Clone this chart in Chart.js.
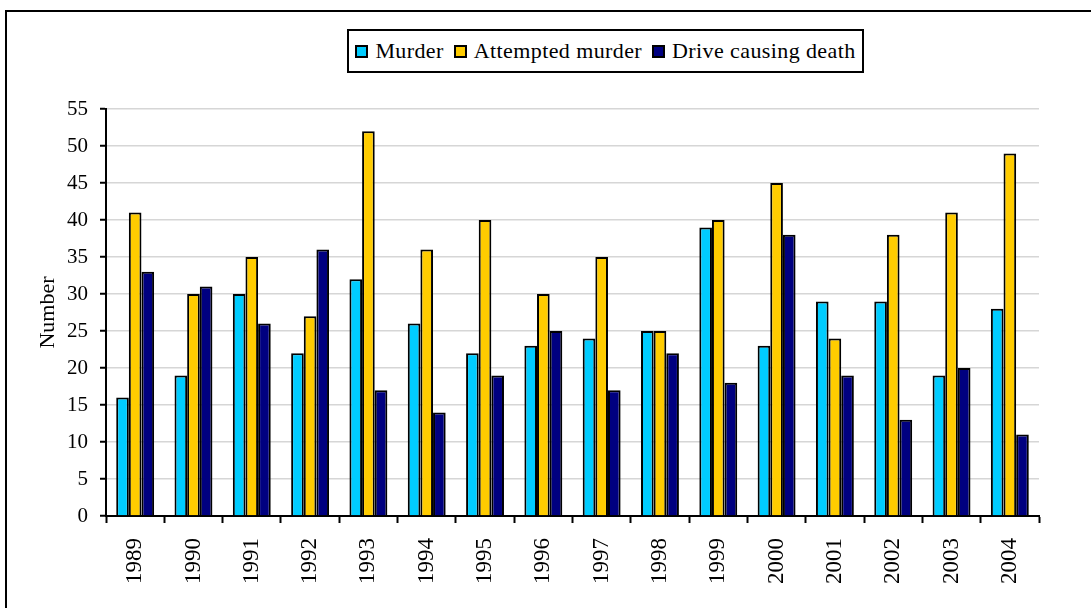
<!DOCTYPE html>
<html>
<head>
<meta charset="utf-8">
<script src="https://cdn.jsdelivr.net/npm/chart.js@4/dist/chart.umd.min.js"></script>
<style>
  html, body { margin: 0; padding: 0; background: #fff; overflow: hidden; width: 1091px; height: 608px; }
  #frame { position: absolute; left: 5px; top: 10px; width: 2000px; height: 2000px;
           border-left: 2px solid #000; border-top: 2px solid #000; }
  #chart { position: absolute; left: 0; top: 0; }
  #legend { position: absolute; left: 347px; top: 29px; width: 513px; height: 40px;
            border: 2px solid #000; background: #fff;
            display: flex; align-items: center; justify-content: center;
            font-family: "Liberation Serif", "Times New Roman", serif; font-size: 22px; color: #000;
            letter-spacing: 0.4px; }
  .item { display: flex; align-items: center; margin: 0 5px; }
  .sw { width: 9px; height: 9px; border: 2px solid #000; margin-right: 7px; margin-top: 1px; }
</style>
</head>
<body>
<div id="frame"></div>
<canvas id="chart" width="1091" height="608"></canvas>
<div id="legend"></div>
<script>
const categories = ["1989","1990","1991","1992","1993","1994","1995","1996","1997","1998","1999","2000","2001","2002","2003","2004"];
const murder          = [16, 19, 30, 22, 32, 26, 22, 23, 24, 25, 39, 23, 29, 29, 19, 28];
const attemptedMurder = [41, 30, 35, 27, 52, 36, 40, 30, 35, 25, 40, 45, 24, 38, 41, 49];
const driveDeath      = [33, 31, 26, 36, 17, 14, 19, 25, 17, 22, 18, 38, 19, 13, 20, 11];
const seriesNames = ["Murder", "Attempted murder", "Drive causing death"];
const seriesColors = ["#00CCFF", "#FFCC00", "#000080"];
const yTitle = "Number";

const seriesData = [murder, attemptedMurder, driveDeath];

// HTML legend
const legendEl = document.getElementById('legend');
seriesNames.forEach((name, i) => {
  const it = document.createElement('div');
  it.className = 'item';
  const sw = document.createElement('div');
  sw.className = 'sw';
  sw.style.background = seriesColors[i];
  const tx = document.createElement('span');
  tx.textContent = name;
  it.appendChild(sw); it.appendChild(tx);
  legendEl.appendChild(it);
});

const serif = "'Liberation Serif', 'Times New Roman', serif";

new Chart(document.getElementById('chart'), {
  type: 'bar',
  data: {
    labels: categories,
    datasets: seriesNames.map((name, i) => ({
      label: name,
      data: seriesData[i],
      backgroundColor: seriesColors[i],
      borderColor: '#000',
      borderWidth: 2,
      borderSkipped: 'bottom',
      categoryPercentage: 0.65,
      barPercentage: 1.0
    }))
  },
  options: {
    responsive: false,
    animation: false,
    layout: { padding: { top: 109, right: 52, left: 0, bottom: 0 } },
    plugins: { legend: { display: false }, tooltip: { enabled: false } },
    scales: {
      x: {
        offset: true,
        grid: { display: true, drawOnChartArea: false, offset: true, tickLength: 7,
                tickColor: '#000', tickWidth: 2, color: '#000' },
        border: { color: '#000', width: 2 },
        ticks: { minRotation: 90, maxRotation: 90, padding: 15, color: '#000',
                 font: { family: serif, size: 23 } },
        afterFit: (s) => { s.height = 92; }
      },
      y: {
        min: 0, max: 55,
        ticks: { stepSize: 5, padding: 12, color: '#000', font: { family: serif, size: 21 } },
        grid: { color: '#d6d6d6', lineWidth: 1.5, tickLength: 6, tickColor: '#000', tickWidth: 2 },
        border: { color: '#000', width: 2 },
        title: { display: true, text: yTitle, color: '#000', font: { family: serif, size: 22 },
                 padding: { top: 35, bottom: 0 } },
        afterFit: (s) => { s.width = 106; }
      }
    }
  }
});
</script>
</body>
</html>
